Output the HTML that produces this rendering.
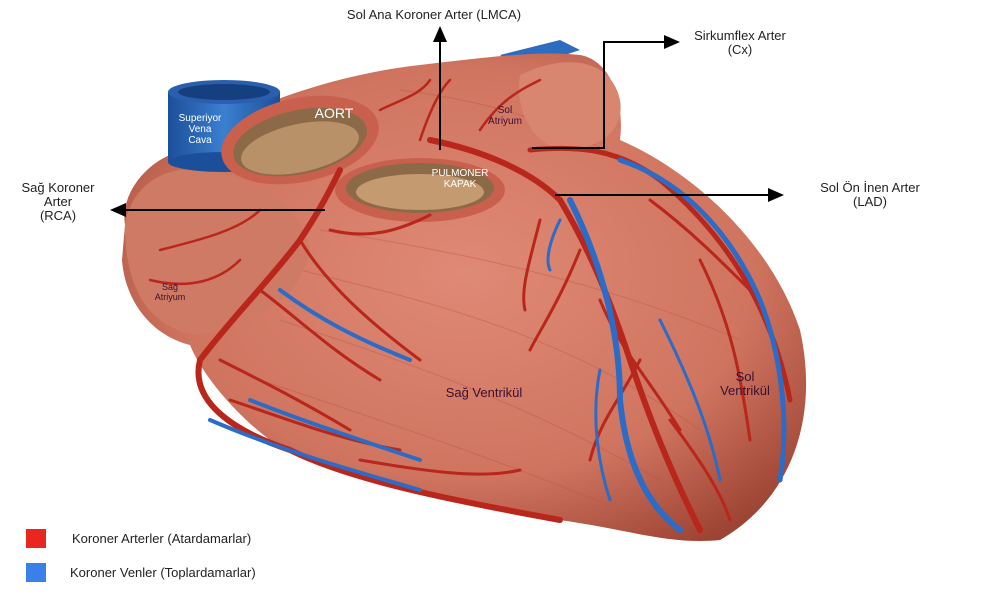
<!DOCTYPE html>
<html><head><meta charset="utf-8"><style>
html,body{margin:0;padding:0;background:#fff;width:1000px;height:600px;overflow:hidden}
svg{display:block}
text{font-family:"Liberation Sans",sans-serif}
</style></head><body>
<svg width="1000" height="600" viewBox="0 0 1000 600" xmlns="http://www.w3.org/2000/svg">
<defs>
<radialGradient id="hg" cx="0.5" cy="0.45" r="0.65">
<stop offset="0" stop-color="#df8a76"/><stop offset="0.65" stop-color="#cf745f"/><stop offset="1" stop-color="#9e4434"/>
</radialGradient>
<linearGradient id="bl" x1="0" x2="1"><stop offset="0" stop-color="#1c4f9a"/><stop offset="0.5" stop-color="#3b7fd0"/><stop offset="1" stop-color="#1c4f9a"/></linearGradient>
<marker id="ar" markerWidth="8" markerHeight="8" refX="7" refY="4" orient="auto"><path d="M0,0.5 L8,4 L0,7.5 Z" fill="#000"/></marker>
</defs>
<path d="M500,55 L560,40 L580,50 L520,70 Z" fill="#2e6cc0"/>
<path d="M125,225 C120,195 145,165 170,155 C230,110 330,75 420,65 C480,58 540,50 580,55 C610,60 625,100 620,140 C690,170 770,240 800,330 C820,420 790,500 720,540 C670,545 630,530 560,520 C460,505 340,480 270,440 C230,410 200,370 190,345 C150,335 125,300 122,260 Z" fill="url(#hg)"/>
<g fill="none" stroke="#b85846" stroke-width="1" opacity="0.45">
<path d="M300,270 C420,300 560,330 700,430 M280,320 C400,360 520,400 660,480 M320,230 C450,250 600,280 740,340 M260,380 C380,420 500,460 620,510 M400,90 C480,100 560,120 640,170"/>
</g>
<path d="M520,75 C560,55 610,55 620,100 C625,130 600,150 560,150 C530,140 515,110 520,75 Z" fill="#d88670"/>
<path d="M125,225 C130,190 160,165 200,170 C250,175 300,200 310,250 C300,300 260,320 200,335 C150,330 125,290 125,225 Z" fill="#cf7a65"/>
<rect x="168" y="92" width="112" height="70" fill="url(#bl)"/>
<ellipse cx="224" cy="92" rx="56" ry="12" fill="#2a5fae"/>
<ellipse cx="224" cy="92" rx="46" ry="8" fill="#163f80"/>
<ellipse cx="224" cy="162" rx="56" ry="10" fill="#1c4f9a"/>
<ellipse cx="300" cy="140" rx="80" ry="42" fill="#c9604e" transform="rotate(-12 300 140)"/>
<ellipse cx="300" cy="142" rx="68" ry="32" fill="#8c6a48" transform="rotate(-12 300 142)"/>
<ellipse cx="300" cy="148" rx="60" ry="24" fill="#b89168" transform="rotate(-12 300 148)"/>
<ellipse cx="420" cy="190" rx="85" ry="32" fill="#c9604e"/>
<ellipse cx="420" cy="188" rx="74" ry="25" fill="#8c6a48"/>
<ellipse cx="420" cy="192" rx="64" ry="18" fill="#c49a70"/>
<g fill="none" stroke="#b8261c" stroke-linecap="round">
<path d="M340,170 C330,190 320,210 300,240 C270,280 230,320 200,360 C190,400 230,430 290,450 C350,480 450,500 560,520" stroke-width="6"/>
<path d="M430,140 C480,150 530,170 560,200 C590,250 610,300 630,360 C650,420 670,470 700,530" stroke-width="6"/>
<path d="M530,150 C580,145 620,150 660,180 C720,230 770,300 790,400" stroke-width="5"/>
<path d="M300,240 C330,290 380,330 420,360 M260,290 C300,320 330,350 380,380 M220,360 C260,380 300,400 350,430 M230,400 C290,420 340,440 400,450 M330,230 C370,240 400,230 430,215 M360,460 C420,470 480,480 520,470" stroke-width="3"/>
<path d="M580,250 C560,300 540,330 530,350 M600,300 C620,350 650,380 680,430 M640,360 C620,400 600,420 590,460 M700,260 C730,320 740,370 750,440 M650,200 C690,230 720,260 760,300 M540,220 C530,260 520,290 525,310 M670,420 C700,460 720,490 730,520" stroke-width="3"/>
<path d="M160,250 C200,240 240,230 260,210 M150,280 C190,290 220,280 240,260 M420,140 C430,110 440,90 450,80 M380,110 C400,100 420,95 430,80 M480,130 C500,100 520,90 540,80" stroke-width="2.5"/>
</g>
<g fill="none" stroke="#2c6cc6" stroke-linecap="round">
<path d="M570,200 C600,260 620,330 620,400 C625,450 640,500 680,530" stroke-width="6"/>
<path d="M620,160 C680,180 730,230 760,300 C780,350 790,420 780,480" stroke-width="5"/>
<path d="M280,290 C320,320 360,340 410,360 M250,400 C300,420 360,440 420,460 M210,420 C280,450 350,470 420,490" stroke-width="4"/>
<path d="M560,220 C550,240 545,260 550,270 M660,320 C690,380 710,430 720,480 M600,370 C590,420 600,470 610,500" stroke-width="3"/>
</g>
<text x="200" y="121" fill="#fff" font-size="10" text-anchor="middle">Superiyor</text>
<text x="200" y="132" fill="#fff" font-size="10" text-anchor="middle">Vena</text>
<text x="200" y="143" fill="#fff" font-size="10" text-anchor="middle">Cava</text>
<text x="334" y="118" fill="#fff" font-size="14" text-anchor="middle">AORT</text>
<text x="460" y="176" fill="#fff" font-size="10" text-anchor="middle">PULMONER</text>
<text x="460" y="187" fill="#fff" font-size="10" text-anchor="middle">KAPAK</text>
<text x="505" y="113" fill="#3a1030" font-size="10" text-anchor="middle">Sol</text>
<text x="505" y="124" fill="#3a1030" font-size="10" text-anchor="middle">Atriyum</text>
<text x="170" y="290" fill="#3a1030" font-size="9" text-anchor="middle">Sağ</text>
<text x="170" y="300" fill="#3a1030" font-size="9" text-anchor="middle">Atriyum</text>
<text x="484" y="397" fill="#3a1030" font-size="13" text-anchor="middle">Sağ Ventrikül</text>
<text x="745" y="381" fill="#3a1030" font-size="13" text-anchor="middle">Sol</text>
<text x="745" y="395" fill="#3a1030" font-size="13" text-anchor="middle">Ventrikül</text>
<g stroke="#000" stroke-width="2" fill="none">
<path d="M440,150 L440,28" marker-end="url(#ar)"/>
<path d="M532,148 L604,148 L604,42 L678,42" marker-end="url(#ar)"/>
<path d="M555,195 L782,195" marker-end="url(#ar)"/>
<path d="M325,210 L112,210" marker-end="url(#ar)"/>
</g>
<g fill="#222" font-size="13" text-anchor="middle">
<text x="434" y="19">Sol Ana Koroner Arter (LMCA)</text>
<text x="740" y="40">Sirkumflex Arter</text>
<text x="740" y="54">(Cx)</text>
<text x="870" y="192">Sol Ön İnen Arter</text>
<text x="870" y="206">(LAD)</text>
<text x="58" y="192">Sağ Koroner</text>
<text x="58" y="206">Arter</text>
<text x="58" y="220">(RCA)</text>
</g>
<rect x="26" y="529" width="20" height="19" fill="#e8281e"/>
<rect x="26" y="563" width="20" height="19" fill="#3a80e8"/>
<text x="72" y="543" font-size="13" fill="#222">Koroner Arterler (Atardamarlar)</text>
<text x="70" y="577" font-size="13" fill="#222">Koroner Venler (Toplardamarlar)</text>
</svg>
</body></html>
